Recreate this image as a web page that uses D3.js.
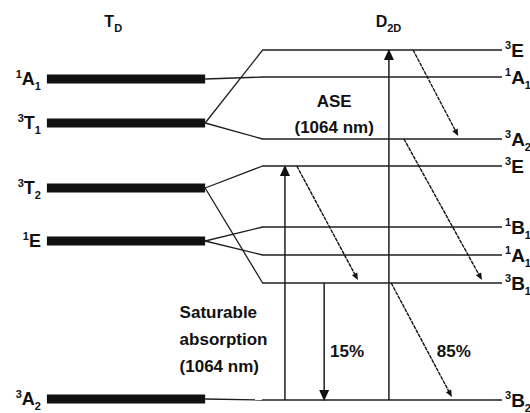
<!DOCTYPE html>
<html><head><meta charset="utf-8">
<script src="https://cdn.jsdelivr.net/npm/d3@7"></script>
<style>body{margin:0;background:#fff}svg{display:block}</style>
</head><body><svg id="c" width="530" height="413"></svg>
<script>
// ---- data ----
const tdTerms  = ["A","T","T","E","A"];
const tdSup    = ["1","3","3","1","3"];
const tdSub    = ["1","1","2","","2"];
const tdEnergy = [321,277,212,159,1];

const d2dTerms  = ["E","A","A","E","B","A","B","B"];
const d2dSup    = ["3","1","3","3","1","1","3","3"];
const d2dSub    = ["","1","2","","1","1","1","2"];
const d2dEnergy = [350,323,261,234,173,145,117,0];

// correlation lines: Td level index -> D2d level index
const corrFrom = [0,1,1,2,2,3,3,4];
const corrTo   = [1,0,2,3,6,4,5,7];

// solid vertical transitions (x in diagram units, energies)
const vArrowX    = [52.4, 75.2, 61.0];
const vArrowFrom = [0, 0, 117];
const vArrowTo   = [234, 350, 0];

// non-radiative (dotted) transitions
const nrX1 = [80.5, 78.5, 55.0, 75.7];
const nrE1 = [350, 261, 234, 117];
const nrX2 = [90.4, 95.6, 68.4, 89.0];
const nrE2 = [261, 117, 117, 0];

const titles = [["T","D"],["D","2D"]];
const titleX = [12.8, 72.3];

// ---- drawing ----
const svg = d3.select("#c");
const x = d3.scaleLinear().domain([0,100]).range([46,502]);
const y = d3.scaleLinear().domain([0,350]).range([400,50]);
const tdEnd = 34.9, d2dStart = 47.4;
const ink = "#1e1e1e";
const font = "'Liberation Sans', Arial, sans-serif";

// Td bars
svg.selectAll("rect.td").data(tdEnergy).join("rect")
  .attr("x", x(0.2)).attr("width", x(tdEnd)-x(0.2))
  .attr("y", d => y(d)-4.5).attr("height", 9).attr("fill", "#111");

// D2d levels
svg.selectAll("line.d2d").data(d2dEnergy).join("line")
  .attr("x1", x(d2dStart)).attr("x2", x(100))
  .attr("y1", d => y(d)).attr("y2", d => y(d))
  .attr("stroke", ink).attr("stroke-width", 1.4);

// correlation lines
svg.selectAll("line.corr").data(corrFrom).join("line")
  .attr("x1", x(tdEnd)).attr("x2", x(d2dStart)+0.5)
  .attr("y1", (d,i) => y(tdEnergy[d])).attr("y2", (d,i) => y(d2dEnergy[corrTo[i]]))
  .attr("stroke", ink).attr("stroke-width", 1.3);

function head(x2, y2, ang, len, wid) {
  const ca = Math.cos(ang), sa = Math.sin(ang);
  const bx = x2 - len*ca, by = y2 - len*sa;
  return `M${x2},${y2}L${bx - wid/2*sa},${by + wid/2*ca}L${bx + wid/2*sa},${by - wid/2*ca}Z`;
}

// vertical arrows
vArrowX.forEach((vx, i) => {
  const X = x(vx), Y1 = y(vArrowFrom[i]), Y2 = y(vArrowTo[i]);
  const dir = Y2 < Y1 ? -1 : 1;
  svg.append("line").attr("x1", X).attr("x2", X).attr("y1", Y1).attr("y2", Y2 - dir*8)
    .attr("stroke", ink).attr("stroke-width", 1.5);
  svg.append("path").attr("d", head(X, Y2 + dir*1, dir>0 ? Math.PI/2 : -Math.PI/2, 11, 10))
    .attr("fill", "#111");
});

// non-radiative arrows
nrX1.forEach((v, i) => {
  const X1 = x(v), Y1 = y(nrE1[i]), X2 = x(nrX2[i]), Y2 = y(nrE2[i]) - 3;
  const ang = Math.atan2(Y2-Y1, X2-X1);
  svg.append("line").attr("x1", X1).attr("y1", Y1)
    .attr("x2", X2 - 5*Math.cos(ang)).attr("y2", Y2 - 5*Math.sin(ang))
    .attr("stroke", "#111").attr("stroke-width", 1.4).attr("stroke-dasharray", "4,0.8");
  svg.append("path").attr("d", head(X2, Y2, ang, 7, 6)).attr("fill", "#111");
});

// term-symbol label helper
function term(sel, sup, main, sub, big, small) {
  sel.append("tspan").attr("font-size", small).attr("dy", -big*0.38).text(sup);
  sel.append("tspan").attr("font-size", big).attr("dy", big*0.38).text(main);
  if (sub) sel.append("tspan").attr("font-size", small).attr("dy", big*0.3).text(sub);
}

tdEnergy.forEach((e, i) => {
  const t = svg.append("text").attr("x", x(-1.1)).attr("y", y(e) + 6)
    .attr("text-anchor", "end").attr("font-family", font).attr("font-weight", "bold").attr("fill", "#111");
  term(t, tdSup[i], tdTerms[i], tdSub[i], 18, 11);
});

d2dEnergy.forEach((e, i) => {
  const t = svg.append("text").attr("x", x(100) + 3).attr("y", y(e) + 6.5)
    .attr("text-anchor", "start").attr("font-family", font).attr("font-weight", "bold").attr("fill", "#111");
  term(t, d2dSup[i], d2dTerms[i], d2dSub[i], 19, 11);
});

// titles
titles.forEach((tt, i) => {
  const t = svg.append("text").attr("x", x(titleX[i])).attr("y", 27)
    .attr("font-family", font).attr("font-weight", "bold").attr("fill", "#111");
  t.append("tspan").attr("font-size", 16).text(tt[0]);
  t.append("tspan").attr("font-size", 11).attr("dy", 5).text(tt[1]);
});

// annotations
function label(lines, lx, ly, anchor, gap) {
  const t = svg.append("text").attr("font-family", font).attr("font-weight", "bold")
    .attr("font-size", 17).attr("fill", "#111").attr("text-anchor", anchor);
  lines.forEach((s, k) => t.append("tspan").attr("x", lx).attr("y", ly + k*gap).text(s));
}
label(["ASE","(1064 nm)"], x(63.2), 107, "middle", 26);
label(["Saturable","absorption","(1064 nm)"], x(29.3), 318, "start", 27);
label(["15%"], x(62.3), 357, "start", 0);
label(["85%"], x(85.7), 357, "start", 0);
</script></body></html>
